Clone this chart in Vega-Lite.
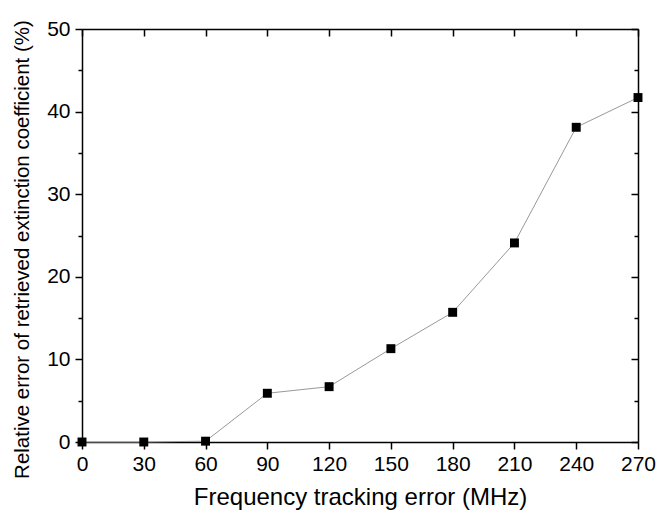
{
  "$schema": "https://vega.github.io/schema/vega-lite/v6.json",
  "width": 556,
  "height": 413,
  "autosize": {"type": "none"},
  "padding": {"left": 82, "top": 29, "right": 19, "bottom": 76},
  "background": "white",
  "config": {
    "view": {"stroke": null},
    "font": "Liberation Sans",
    "axis": {"grid": false, "domainColor": "#000", "tickColor": "#000", "domainWidth": 1.5, "tickWidth": 1.5, "labelColor": "#000", "titleColor": "#000", "labelFont": "Liberation Sans", "titleFont": "Liberation Sans", "labelFontSize": 21, "titleFontSize": 21, "titleFontWeight": "normal", "labelFlush": false, "labelOverlap": false, "labelBound": false, "titleLimit": 800}
  },
  "data": {"values": [
    {"f": 0, "e": 0},
    {"f": 30, "e": 0},
    {"f": 60, "e": 0.1},
    {"f": 90, "e": 5.9},
    {"f": 120, "e": 6.7},
    {"f": 150, "e": 11.3},
    {"f": 180, "e": 15.7},
    {"f": 210, "e": 24.1},
    {"f": 240, "e": 38.1},
    {"f": 270, "e": 41.7}
  ]},
  "resolve": {"axis": {"x": "independent", "y": "independent"}},
  "layer": [
    {
      "mark": {"type": "line", "color": "#999", "strokeWidth": 1},
      "encoding": {
        "x": {"field": "f", "type": "quantitative", "scale": {"domain": [0, 270], "nice": false},
              "axis": {"title": "Frequency tracking error (MHz)", "titleFontSize": 24, "values": [0,30,60,90,120,150,180,210,240,270], "tickSize": 7, "labelPadding": 4, "titlePadding": 11}},
        "y": {"field": "e", "type": "quantitative", "scale": {"domain": [0, 50], "nice": false},
              "axis": {"title": "Relative error of retrieved extinction coefficient (%)", "titleFontSize": 20.5, "titleLimit": 800, "titleY": 220, "titleAlign": "center", "values": [0,10,20,30,40,50], "tickSize": 7, "labelPadding": 5, "titlePadding": 14}}
      }
    },
    {
      "mark": {"type": "square", "color": "#000", "size": 80, "opacity": 1},
      "encoding": {
        "x": {"field": "f", "type": "quantitative",
              "axis": {"orient": "top", "title": null, "labels": false, "values": [0,30,60,90,120,150,180,210,240,270], "tickSize": -7}},
        "y": {"field": "e", "type": "quantitative",
              "axis": {"orient": "right", "title": null, "labels": false, "values": [0,10,20,30,40,50], "tickSize": -7}}
      }
    },
    {
      "mark": {"type": "point", "opacity": 0},
      "encoding": {
        "x": {"field": "f", "type": "quantitative", "axis": null},
        "y": {"field": "e", "type": "quantitative",
              "axis": {"orient": "left", "title": null, "labels": false, "domain": false, "values": [5,15,25,35,45], "tickSize": 4}}
      }
    },
    {
      "mark": {"type": "point", "opacity": 0},
      "encoding": {
        "x": {"field": "f", "type": "quantitative", "axis": null},
        "y": {"field": "e", "type": "quantitative",
              "axis": {"orient": "right", "title": null, "labels": false, "domain": false, "values": [5,15,25,35,45], "tickSize": -4}}
      }
    }
  ]
}
